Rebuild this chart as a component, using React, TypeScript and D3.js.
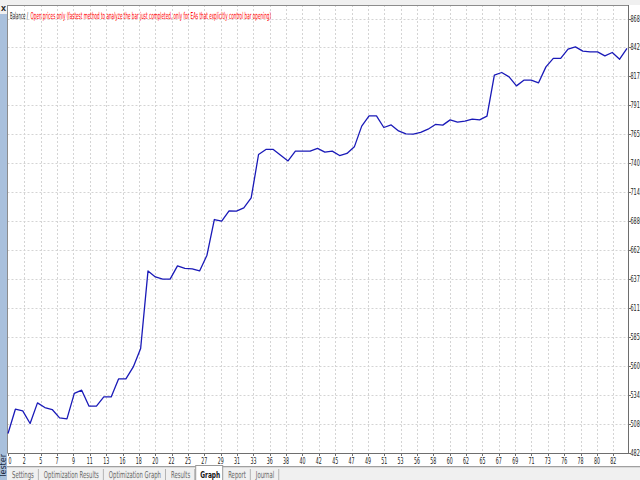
import React, { useRef, useEffect } from 'react';
import * as d3 from 'd3';

// balance after each trade
const balance = [
  4998, 5214, 5199, 5087, 5270, 5229, 5211, 5137, 5128, 5354,
  5383, 5241, 5241, 5323, 5323, 5483, 5483, 5590, 5754, 6443,
  6390, 6370, 6370, 6488, 6465, 6461, 6443, 6583, 6900, 6885,
  6977, 6974, 7003, 7092, 7478, 7523, 7523, 7472, 7421, 7508,
  7508, 7508, 7532, 7499, 7508, 7469, 7487, 7546, 7730, 7821,
  7821, 7718, 7741, 7688, 7661, 7659, 7674, 7703, 7745, 7739,
  7786, 7765, 7774, 7792, 7786, 7819, 8183, 8207, 8168, 8088,
  8139, 8139, 8115, 8257, 8332, 8332, 8414, 8435, 8397, 8390,
  8390, 8355, 8385, 8325, 8421
];

const yTickLabels = [
  '4829', '5086', '5343', '5600', '5858', '6115', '6372', '6629',
  '6886', '7143', '7401', '7658', '7915', '8172', '8429', '8687'
];

const xTickLabels = [
  '0', '2', '5', '7', '9', '11', '13', '16', '18', '20', '22', '25', '27',
  '29', '31', '33', '36', '38', '40', '42', '45', '47', '49', '51', '53',
  '56', '58', '60', '62', '65', '67', '69', '71', '73', '76', '78', '80', '82'
];

const tabs = ['Settings', 'Optimization Results', 'Optimization Graph', 'Results', 'Graph', 'Report', 'Journal'];
const activeTab = 'Graph';

const titleHead = 'Balance /';
const titleRest = 'Open prices only (fastest method to analyze the bar just completed, only for EAs that explicitly control bar opening)';

const yMin = 4829;
const yMax = 8687;
const xTickStep = 2.22; // trades between grid lines

const narrow = "'Liberation Sans Narrow', 'DejaVu Sans Condensed', 'Arial Narrow', sans-serif";

// draws a text squeezed horizontally to a wanted width (scale, not textLength)
function squeezedText(
  parent: d3.Selection<any, any, any, any>,
  str: string,
  x: number,
  y: number,
  width: number,
  size: number
) {
  const t = parent.append('text')
    .attr('font-family', narrow)
    .attr('font-size', size)
    .text(str);
  const natural = (t.node() as SVGTextElement).getComputedTextLength() || width;
  t.attr('transform', `translate(${x},${y}) scale(${width / natural},1)`);
  return t;
}

export default function App() {
  const svgRef = useRef<SVGSVGElement>(null);

  useEffect(() => {
    const width = 640;
    const height = 480;
    const svg = d3.select(svgRef.current);
    svg.selectAll('*').remove();
    svg.attr('width', width).attr('height', height);

    const plot = { left: 7.5, right: 628, top: 5, bottom: 453 };

    const x = d3.scaleLinear()
      .domain([0, balance.length - 1])
      .range([8, 627]);

    const y = d3.scaleLinear()
      .domain([yMin, yMax])
      .range([452.5, 18.5]);

    // window chrome
    svg.append('rect').attr('width', width).attr('height', height).attr('fill', '#ffffff');
    svg.append('rect').attr('width', width).attr('height', plot.top).attr('fill', '#f0f0f0');
    svg.append('rect').attr('x', 0).attr('y', 0).attr('width', 7).attr('height', height).attr('fill', '#a9c0dc');
    svg.append('rect').attr('x', 0).attr('y', 0).attr('width', 7).attr('height', 14).attr('fill', '#f0f0f0');
    svg.append('text')
      .attr('x', 3.5).attr('y', 11)
      .attr('text-anchor', 'middle')
      .attr('font-family', 'Arial, sans-serif')
      .attr('font-size', 9)
      .attr('font-weight', 'bold')
      .attr('fill', '#222')
      .text('x');
    svg.append('text')
      .attr('transform', 'translate(5.5,478) rotate(-90)')
      .attr('font-family', narrow)
      .attr('font-size', 9)
      .attr('fill', '#1a2a40')
      .text('Tester');

    // grid
    const yTickValues = yTickLabels.map((_, i) => yMin + i * (yMax - yMin) / (yTickLabels.length - 1));
    const xTickValues = xTickLabels.map((_, i) => i * xTickStep);

    const grid = svg.append('g').attr('stroke', '#d4d4d4').attr('stroke-dasharray', '2,2').attr('stroke-width', 1);
    grid.selectAll('.hgrid')
      .data(yTickValues.slice(1))
      .enter()
      .append('line')
      .attr('x1', plot.left).attr('x2', plot.right)
      .attr('y1', d => Math.round(y(d)) + 0.5)
      .attr('y2', d => Math.round(y(d)) + 0.5);
    grid.selectAll('.vgrid')
      .data(xTickValues.slice(1))
      .enter()
      .append('line')
      .attr('y1', plot.top).attr('y2', plot.bottom)
      .attr('x1', d => Math.round(x(d)) + 0.5)
      .attr('x2', d => Math.round(x(d)) + 0.5);

    // frame and axes
    svg.append('line').attr('x1', plot.left).attr('x2', plot.right).attr('y1', plot.top + 0.5).attr('y2', plot.top + 0.5).attr('stroke', '#8c8c8c');
    svg.append('line').attr('x1', plot.left).attr('x2', plot.left).attr('y1', plot.top).attr('y2', plot.bottom).attr('stroke', '#8c8c8c');
    svg.append('line').attr('x1', plot.right + 0.5).attr('x2', plot.right + 0.5).attr('y1', plot.top).attr('y2', plot.bottom + 1).attr('stroke', '#6e6e6e');
    svg.append('line').attr('x1', plot.left).attr('x2', plot.right + 1).attr('y1', plot.bottom + 0.5).attr('y2', plot.bottom + 0.5).attr('stroke', '#6e6e6e');

    // y axis labels on the right
    const yAxis = svg.append('g');
    yAxis.selectAll('line')
      .data(yTickValues)
      .enter()
      .append('line')
      .attr('x1', plot.right).attr('x2', plot.right + 3)
      .attr('y1', d => Math.round(y(d)) + 0.5)
      .attr('y2', d => Math.round(y(d)) + 0.5)
      .attr('stroke', '#6e6e6e');
    yAxis.selectAll('text')
      .data(yTickLabels)
      .enter()
      .append('text')
      .attr('x', plot.right + 2.5)
      .attr('y', (_, i) => y(yTickValues[i]) + 3)
      .attr('font-family', narrow)
      .attr('font-size', 8.5)
      .attr('textLength', d => d.length * 3.1)
      .attr('lengthAdjust', 'spacingAndGlyphs')
      .attr('fill', '#222')
      .text(d => d);

    // x axis labels
    const xAxis = svg.append('g');
    xAxis.selectAll('line')
      .data(xTickValues)
      .enter()
      .append('line')
      .attr('x1', d => Math.round(x(d)) + 0.5)
      .attr('x2', d => Math.round(x(d)) + 0.5)
      .attr('y1', plot.bottom).attr('y2', plot.bottom + 3)
      .attr('stroke', '#6e6e6e');
    xAxis.selectAll('text')
      .data(xTickLabels)
      .enter()
      .append('text')
      .attr('x', (_, i) => x(xTickValues[i]) + (i === 0 ? 2 : 0))
      .attr('y', 464)
      .attr('text-anchor', 'middle')
      .attr('font-family', narrow)
      .attr('font-size', 8.5)
      .attr('textLength', d => d.length * 3.0)
      .attr('lengthAdjust', 'spacingAndGlyphs')
      .attr('fill', '#222')
      .text(d => d);

    // balance line
    const line = d3.line<number>()
      .x((_, i) => x(i))
      .y(d => y(d));
    svg.append('path')
      .datum(balance)
      .attr('d', line)
      .attr('fill', 'none')
      .attr('stroke', '#1a1ab8')
      .attr('stroke-width', 1.3)
      .attr('stroke-linejoin', 'round');

    // title, in two pieces so the colours sit side by side
    squeezedText(svg, titleHead, 10, 18.5, 18, 9.5).attr('fill', '#222');
    squeezedText(svg, titleRest, 30.5, 18.5, 241, 9.5).attr('fill', '#ff0000');

    // tab strip
    const tabTop = 466;
    svg.append('rect').attr('x', 7).attr('y', tabTop).attr('width', width - 7).attr('height', height - tabTop).attr('fill', '#f0f0f0');
    svg.append('line').attr('x1', 7).attr('x2', width).attr('y1', tabTop + 0.5).attr('y2', tabTop + 0.5).attr('stroke', '#a0a0a0');
    svg.append('line').attr('x1', 7).attr('x2', width).attr('y1', tabTop + 1.5).attr('y2', tabTop + 1.5).attr('stroke', '#dadada');

    // measure natural widths, then squeeze them to the tester's narrow look
    const probe = svg.append('text')
      .attr('font-family', narrow)
      .attr('font-size', 9.5)
      .attr('opacity', 0);
    const natural = tabs.map(name => {
      probe.text(name);
      return (probe.node() as SVGTextElement).getComputedTextLength();
    });
    probe.remove();
    const squeeze = 55 / (natural[1] || 55);

    let tx = 8;
    const tabLayer = svg.append('g');
    tabs.forEach((name, i) => {
      const isActive = name === activeTab;
      const w = natural[i] * squeeze * (isActive ? 1.1 : 1);
      const pad = 4;
      if (isActive) {
        tabLayer.append('rect')
          .attr('x', tx - 0.5).attr('y', tabTop - 0.5)
          .attr('width', w + pad * 2 + 1).attr('height', height - tabTop + 2)
          .attr('fill', '#ffffff').attr('stroke', '#9a9a9a');
      }
      squeezedText(tabLayer, name, tx + pad, 477.5, w, 9.5)
        .attr('font-weight', isActive ? 'bold' : 'normal')
        .attr('fill', isActive ? '#111' : '#666666');
      tx += w + pad * 2;
      if (!isActive) {
        tabLayer.append('line')
          .attr('x1', tx + 0.5).attr('x2', tx + 0.5)
          .attr('y1', tabTop + 3).attr('y2', height)
          .attr('stroke', '#b4b4b4');
      }
      tx += 2;
    });
  }, []);

  return (
    <div style={{ position: 'fixed', left: 0, top: 0 }}>
      <svg ref={svgRef} style={{ display: 'block' }} />
    </div>
  );
}
